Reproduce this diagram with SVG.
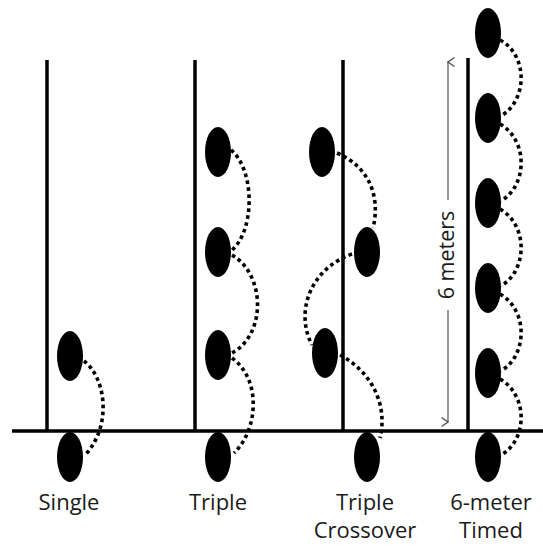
<svg xmlns="http://www.w3.org/2000/svg" width="543" height="546" viewBox="0 0 543 546">
<style>
.pole{stroke:#000;stroke-width:3.5;fill:none}
.dot{stroke:#000;stroke-width:3.6;fill:none;stroke-dasharray:3.6 3.4}
.lbl{font-family:"Open Sans","Liberation Sans",sans-serif;font-size:22px;fill:#1a1a1a;text-anchor:middle}
.dim{stroke:#555;stroke-width:1.2;fill:none}
</style>
<defs>
<marker id="arr" viewBox="0 0 12 12" refX="6" refY="1" markerWidth="12" markerHeight="12" markerUnits="userSpaceOnUse" orient="auto-start-reverse">
<path d="M1.5,7.5 L6,1 L10.5,7.5" fill="none" stroke="#555" stroke-width="1.4"/>
</marker>
</defs>
<rect width="543" height="546" fill="#fff"/>
<line class="pole" x1="12" y1="431" x2="543" y2="431"/>

<g id="single">
<line class="pole" x1="47" y1="60" x2="47" y2="431"/>
<ellipse cx="70" cy="356" rx="13" ry="25"/>
<ellipse cx="70" cy="457" rx="13" ry="25"/>
<text class="lbl" x="69" y="510">Single</text>
</g>

<g id="triple">
<line class="pole" x1="195" y1="60" x2="195" y2="431"/>
<ellipse cx="218" cy="152" rx="13" ry="25"/>
<ellipse cx="218" cy="252" rx="13" ry="25"/>
<ellipse cx="218" cy="355" rx="13" ry="25"/>
<ellipse cx="218" cy="457" rx="13" ry="25"/>
<text class="lbl" x="218" y="510">Triple</text>
</g>

<g id="crossover">
<line class="pole" x1="343" y1="60" x2="343" y2="431"/>
<ellipse cx="322" cy="152" rx="13" ry="25"/>
<ellipse cx="367" cy="252" rx="13" ry="25"/>
<ellipse cx="325" cy="353" rx="13" ry="25"/>
<ellipse cx="367" cy="457" rx="13" ry="25"/>
<text class="lbl" x="365" y="510">Triple</text>
<text class="lbl" x="365" y="538">Crossover</text>
</g>

<g id="timed">
<line class="pole" x1="468" y1="58" x2="468" y2="431"/>
<ellipse cx="488" cy="33" rx="13" ry="25"/>
<ellipse cx="488" cy="118" rx="13" ry="25"/>
<ellipse cx="488" cy="203" rx="13" ry="25"/>
<ellipse cx="488" cy="288" rx="13" ry="25"/>
<ellipse cx="488" cy="373" rx="13" ry="25"/>
<ellipse cx="488" cy="457" rx="13" ry="25"/>
<text class="lbl" x="491" y="510">6-meter</text>
<text class="lbl" x="491" y="538">Timed</text>
</g>

<g id="dimension">
<line class="dim" x1="448" y1="62" x2="448" y2="200" marker-start="url(#arr)"/>
<line class="dim" x1="448" y1="310" x2="448" y2="422" marker-end="url(#arr)"/>
<text transform="translate(454,255) rotate(-90)" font-family="'Open Sans','Liberation Sans',sans-serif" font-size="21.5" fill="#1a1a1a" text-anchor="middle">6 meters</text>
</g>

<g id="connectors">
<path class="dot" d="M84,361 C106,378 112,425 86,454"/>
<path class="dot" d="M231,150 C255,170 255,230 232,250"/>
<path class="dot" d="M232,255 C266,275 266,335 232,353"/>
<path class="dot" d="M232,358 C262,380 258,430 234,453"/>
<path class="dot" d="M337,153 C372,168 380,200 373,228"/>
<path class="dot" d="M352,254 C312,268 294,310 312,345"/>
<path class="dot" d="M340,355 C372,372 388,405 380,438"/>
<path class="dot" d="M500,40 C528,55 528,100 501,116"/>
<path class="dot" d="M500,124 C528,140 528,185 501,201"/>
<path class="dot" d="M500,209 C528,225 528,270 501,286"/>
<path class="dot" d="M500,294 C528,310 528,355 501,371"/>
<path class="dot" d="M500,379 C528,395 528,440 501,455"/>
</g>
</svg>
